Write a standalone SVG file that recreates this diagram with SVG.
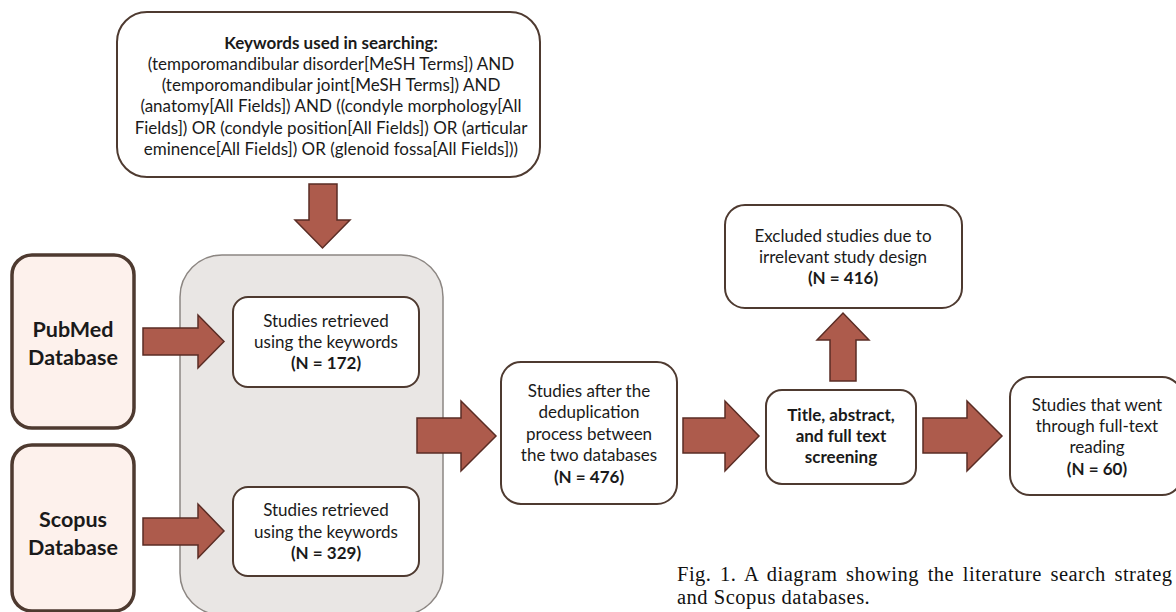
<svg xmlns="http://www.w3.org/2000/svg" width="1176" height="612" viewBox="0 0 1176 612">
<style>
.box{fill:#fff;stroke:#4e3a30;stroke-width:2}
.db{fill:#fdf1ec;stroke:#4e3a30;stroke-width:3.5}
.group{fill:#e9e6e4;stroke:#8c8682;stroke-width:1.5}
.arrow{fill:#ad5b4c;stroke:#5a2c24;stroke-width:1.5}
text{font-family:Lato,"Open Sans","Liberation Sans",sans-serif;font-size:17px;fill:#1a1a1a;text-anchor:middle}
.b{font-weight:bold}
.big{font-size:21.5px;font-weight:bold}
.cap{font-family:"Liberation Serif","Times New Roman",serif;font-size:20.5px;letter-spacing:0.5px;text-anchor:start;fill:#111}
</style>
<rect width="1176" height="612" fill="#fff"/>
<g id="search-group">
<rect class="group" x="180" y="255" width="263" height="360" rx="42"/>
</g>
<g id="keywords">
<rect class="box" x="117" y="12" width="423" height="165" rx="30"/>
<text x="331" y="49" class="b">Keywords used in searching:</text>
<text x="331" y="70">(temporomandibular disorder[MeSH Terms]) AND</text>
<text x="331" y="91">(temporomandibular joint[MeSH Terms]) AND</text>
<text x="331" y="112">(anatomy[All Fields]) AND ((condyle morphology[All</text>
<text x="331" y="134">Fields]) OR (condyle position[All Fields]) OR (articular</text>
<text x="331" y="155">eminence[All Fields]) OR (glenoid fossa[All Fields]))</text>
</g>
<g id="pubmed">
<rect class="db" x="12" y="255" width="122" height="173" rx="20"/>
<text x="73" y="337" class="big">PubMed</text>
<text x="73" y="365" class="big">Database</text>
</g>
<g id="scopus">
<rect class="db" x="12" y="445" width="122" height="166" rx="20"/>
<text x="73" y="527" class="big">Scopus</text>
<text x="73" y="555" class="big">Database</text>
</g>
<g id="pubmed-retrieved">
<rect class="box" x="233" y="297" width="186" height="90" rx="15"/>
<text x="326" y="327">Studies retrieved</text>
<text x="326" y="348">using the keywords</text>
<text x="326" y="369" class="b">(N = 172)</text>
</g>
<g id="scopus-retrieved">
<rect class="box" x="233" y="487" width="186" height="89" rx="15"/>
<text x="326" y="516">Studies retrieved</text>
<text x="326" y="538">using the keywords</text>
<text x="326" y="559" class="b">(N = 329)</text>
</g>
<g id="dedup">
<rect class="box" x="501" y="362" width="176" height="142" rx="20"/>
<text x="589" y="397">Studies after the</text>
<text x="589" y="418">deduplication</text>
<text x="589" y="440">process between</text>
<text x="589" y="461">the two databases</text>
<text x="589" y="483" class="b">(N = 476)</text>
</g>
<g id="screening">
<rect class="box" x="766" y="390" width="150" height="94" rx="16"/>
<text x="841" y="421" class="b">Title, abstract,</text>
<text x="841" y="442" class="b">and full text</text>
<text x="841" y="463" class="b">screening</text>
</g>
<g id="excluded">
<rect class="box" x="725" y="205" width="237" height="103" rx="20"/>
<text x="843" y="242">Excluded studies due to</text>
<text x="843" y="263">irrelevant study design</text>
<text x="843" y="284" class="b">(N = 416)</text>
</g>
<g id="fulltext">
<rect class="box" x="1010" y="377" width="172" height="118" rx="20"/>
<text x="1097" y="411">Studies that went</text>
<text x="1097" y="432">through full-text</text>
<text x="1097" y="453">reading</text>
<text x="1097" y="475" class="b">(N = 60)</text>
</g>
<g id="connectors">
<path class="arrow" d="M309,184 H337 V220 H350 L322.5,248 L295,220 H309 Z"/>
<path class="arrow" d="M143,328 H198 V315 L224,341.5 L198,368 V355 H143 Z"/>
<path class="arrow" d="M143,518 H198 V504 L224,531 L198,558 V545 H143 Z"/>
<path class="arrow" d="M417,418 H461 V401 L496,436 L461,471 V453 H417 Z"/>
<path class="arrow" d="M683,418 H725 V401 L759,436 L725,471 V453 H683 Z"/>
<path class="arrow" d="M923,418 H967 V401 L1002,436 L967,471 V453 H923 Z"/>
<path class="arrow" d="M830,381 V340 H817 L843,313 L869,340 H856 V381 Z"/>
</g>
<g id="caption">
<text class="cap"><tspan x="677" y="581" word-spacing="3">Fig. 1. A diagram showing the literature search strateg</tspan><tspan x="677" y="604">and Scopus databases.</tspan></text>
</g>
</svg>
